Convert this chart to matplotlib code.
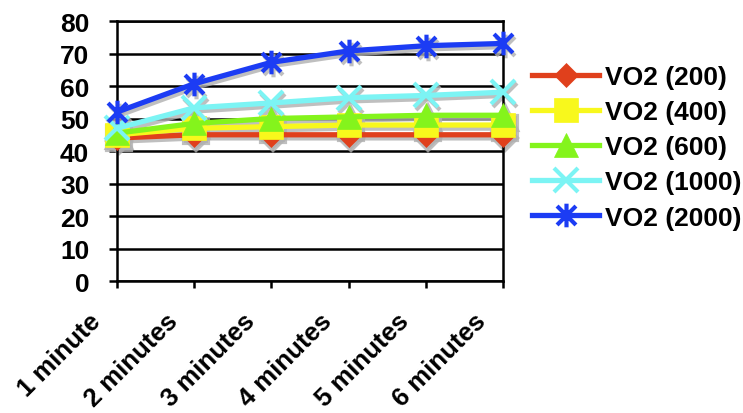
import numpy as np
import matplotlib
matplotlib.use('Agg')
import matplotlib.pyplot as plt
from matplotlib.path import Path
from matplotlib import transforms

plt.rcParams['font.family'] = ['Liberation Sans', 'DejaVu Sans']
plt.rcParams['font.weight'] = 'bold'

# Data
categories = ['1 minute', '2 minutes', '3 minutes', '4 minutes', '5 minutes', '6 minutes']
vo2_200 = [44, 45, 45, 45, 45, 45]
vo2_400 = [45, 47, 47.5, 48, 48, 48]
vo2_600 = [45.5, 48.5, 50, 50.5, 51, 51]
vo2_1000 = [47, 53.3, 54.8, 56.4, 57.1, 58.1]
vo2_2000 = [52, 60.7, 67.3, 70.8, 72.4, 73.1]
labels = ['VO2 (200)', 'VO2 (400)', 'VO2 (600)', 'VO2 (1000)', 'VO2 (2000)']

# Excel-like asterisk marker: vertical bar plus an X
asterisk = Path([(0, -1), (0, 1), (-0.8, -0.8), (0.8, 0.8), (-0.8, 0.8), (0.8, -0.8)],
                [Path.MOVETO, Path.LINETO, Path.MOVETO, Path.LINETO, Path.MOVETO, Path.LINETO])

series = [vo2_200, vo2_400, vo2_600, vo2_1000, vo2_2000]
colors = ['#e0401c', '#f8f81c', '#84f41c', '#7cf4f4', '#1c3cf4']
markers = ['D', 's', '^', 'x', asterisk]
msizes = [12, 17, 17, 17, 17]

fig = plt.figure(figsize=(7.43, 4.14), dpi=100)
ax = fig.add_axes([0.1575, 0.3188, 0.5195, 0.628])

x = np.arange(len(categories))
shadow = transforms.offset_copy(ax.transData, fig=fig, x=2, y=-3, units='dots')

# shadows first
for vals, m, ms in zip(series, markers, msizes):
    ax.plot(x, vals, color='#b0b0b0', lw=4, marker=m, ms=ms, mew=3,
            alpha=0.8, transform=shadow, zorder=2, clip_on=False)

lines = []
for i, (vals, c, m, ms, lab) in enumerate(zip(series, colors, markers, msizes, labels)):
    thin = m not in ('x',) and m is not asterisk
    ln, = ax.plot(x, vals, color=c, lw=3.8, marker=m, ms=ms, mfc=c, mec=c,
                  mew=0.5 if thin else 3, label=lab, zorder=3 + i, clip_on=False)
    lines.append(ln)

ax.set_xlim(0, len(categories) - 1)
ax.set_ylim(0, 80)
ax.set_yticks(range(0, 81, 10))
ax.set_xticks(x)
ax.yaxis.grid(True, color='black', lw=1.8)
ax.set_axisbelow(True)
for s in ax.spines.values():
    s.set_linewidth(1.8)
ax.tick_params(axis='y', length=6, width=1.8, pad=14, labelsize=19)
ax.tick_params(axis='x', length=5, width=1.8, pad=14, labelsize=18.5)
ax.set_xticklabels(categories, rotation=45, ha='right', va='top', rotation_mode='anchor')

# nudge the slanted labels left like the original
shift = transforms.ScaledTranslation(-29 / 100, -1 / 100, fig.dpi_scale_trans)
for lbl in ax.get_xticklabels():
    lbl.set_transform(lbl.get_transform() + shift)

fig.legend(handles=lines, loc='upper left', bbox_to_anchor=(0.716, 0.84),
           frameon=False, fontsize=19, handlelength=2.55, handletextpad=0.2,
           labelspacing=0.42, borderpad=0, borderaxespad=0)

fig.savefig('out.png', dpi=100)
